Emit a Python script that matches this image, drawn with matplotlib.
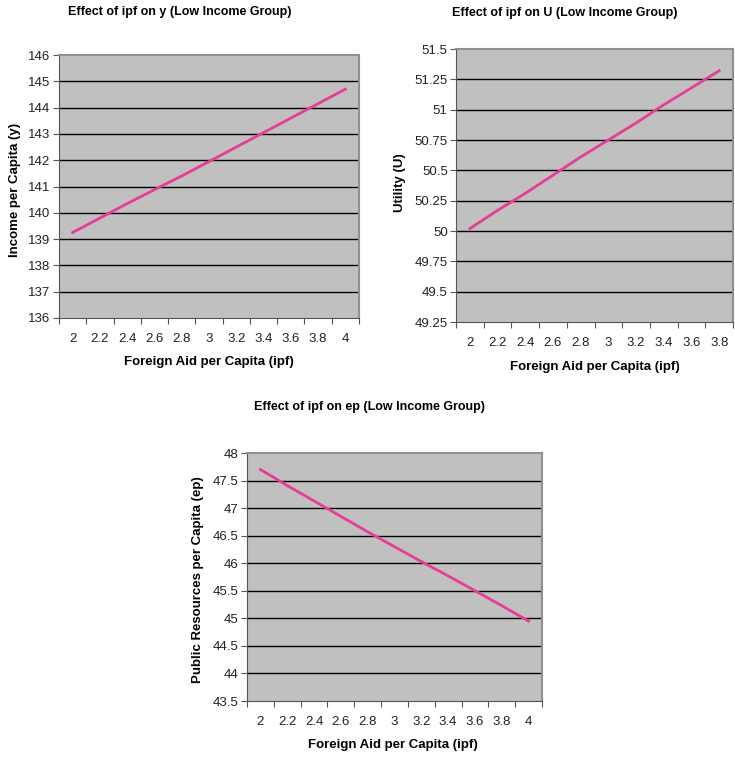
import numpy as np
import matplotlib
matplotlib.use('Agg')
import matplotlib.pyplot as plt

plt.rcParams['font.family'] = ['Liberation Sans', 'DejaVu Sans']

# category labels (Excel-style category axis)
ipf_11 = ['2', '2.2', '2.4', '2.6', '2.8', '3', '3.2', '3.4', '3.6', '3.8', '4']
ipf_10 = ['2', '2.2', '2.4', '2.6', '2.8', '3', '3.2', '3.4', '3.6', '3.8']

# series values
income_y = [139.25, 139.8, 140.35, 140.88, 141.4, 141.95, 142.5, 143.05, 143.6, 144.15, 144.7]
utility_u = [50.02, 50.17, 50.31, 50.46, 50.61, 50.75, 50.89, 51.04, 51.18, 51.32]
public_ep = [47.7, 47.41, 47.13, 46.85, 46.57, 46.3, 46.03, 45.77, 45.5, 45.23, 44.95]

y_ticks_1 = [136, 137, 138, 139, 140, 141, 142, 143, 144, 145, 146]
y_ticks_2 = [49.25, 49.5, 49.75, 50, 50.25, 50.5, 50.75, 51, 51.25, 51.5]
y_labels_2 = ['49.25', '49.5', '49.75', '50', '50.25', '50.5', '50.75', '51', '51.25', '51.5']
y_ticks_3 = [43.5, 44, 44.5, 45, 45.5, 46, 46.5, 47, 47.5, 48]
y_labels_3 = ['43.5', '44', '44.5', '45', '45.5', '46', '46.5', '47', '47.5', '48']

W, H = 735, 757
LINE = '#ea3c95'


def px_axes(fig, left, top, right, bottom):
    return fig.add_axes([left / W, 1 - bottom / H, (right - left) / W, (bottom - top) / H])


def draw_panel(fig, box, cats, vals, yticks, ylabels, title, ylabel,
               title_xy, xlabel_xy, ylabel_xy):
    ax = px_axes(fig, *box)
    n = len(cats)
    x = np.arange(n)
    ax.set_facecolor('#c0c0c0')
    ax.plot(x, vals, color=LINE, lw=2, zorder=3)
    ax.set_xlim(-0.5, n - 0.5)
    ax.set_ylim(yticks[0], yticks[-1])

    # boundaries get tick marks, centres get labels
    ax.set_xticks(np.arange(-0.5, n, 1))
    ax.set_xticklabels([])
    ax.set_xticks(x, minor=True)
    ax.set_xticklabels(cats, minor=True, fontsize=9.5, color='#222222')
    ax.tick_params(axis='x', which='minor', length=0, pad=11)
    ax.tick_params(axis='x', which='major', length=4, direction='out', color='#555555')

    ax.set_yticks(yticks)
    ax.set_yticklabels(ylabels, fontsize=9.5, color='#222222')
    ax.tick_params(axis='y', length=4, direction='out', color='#555555', pad=2)

    for yv in yticks[1:-1]:
        ax.axhline(yv, color='black', lw=1, zorder=2)
    for side in ['left', 'bottom']:
        ax.spines[side].set_color('#555555')
    for side in ['top', 'right']:
        ax.spines[side].set_color('#909090')
        ax.spines[side].set_linewidth(1.5)

    fig.text(title_xy[0] / W, 1 - title_xy[1] / H, title, ha='center', va='center',
             fontsize=9, fontweight='bold')
    fig.text(xlabel_xy[0] / W, 1 - xlabel_xy[1] / H, 'Foreign Aid per Capita (ipf)',
             ha='center', va='center', fontsize=9.5, fontweight='bold')
    fig.text(ylabel_xy[0] / W, 1 - ylabel_xy[1] / H, ylabel, ha='center', va='center',
             rotation=90, fontsize=9.5, fontweight='bold')
    return ax


fig = plt.figure(figsize=(W / 100, H / 100), dpi=100)

draw_panel(fig, (59, 55, 359, 318), ipf_11, income_y, y_ticks_1,
           [str(v) for v in y_ticks_1],
           'Effect of ipf on y (Low Income Group)', 'Income per Capita (y)',
           (180, 12), (209, 362), (15, 190))

draw_panel(fig, (456, 49, 733, 322), ipf_10, utility_u, y_ticks_2, y_labels_2,
           'Effect of ipf on U (Low Income Group)', 'Utility (U)',
           (565, 13), (595, 367), (400, 183))

draw_panel(fig, (247, 453, 542, 701), ipf_11, public_ep, y_ticks_3, y_labels_3,
           'Effect of ipf on ep (Low Income Group)', 'Public Resources per Capita (ep)',
           (370, 407), (393, 745), (198, 580))

fig.savefig('out.png', dpi=100)
plt.close(fig)
